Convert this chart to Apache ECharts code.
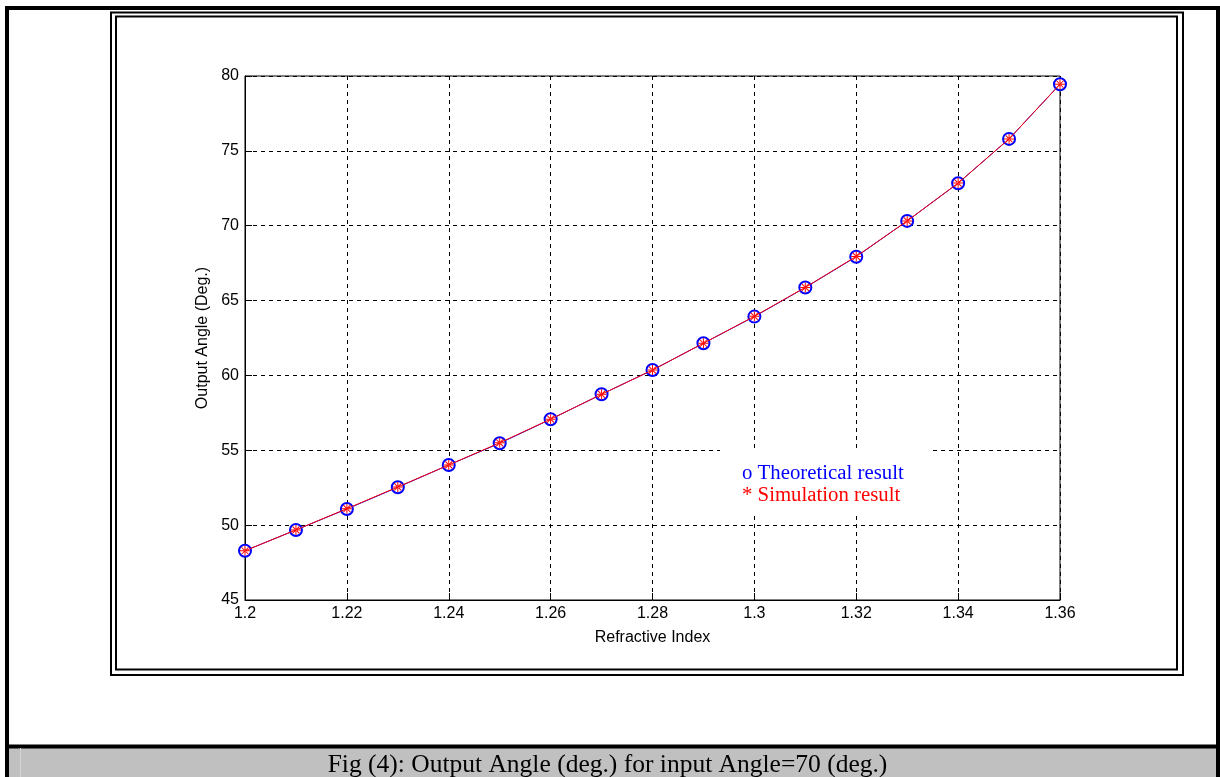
<!DOCTYPE html>
<html>
<head>
<meta charset="utf-8">
<title>Output Angle vs Refractive Index</title>
<script src="https://cdn.jsdelivr.net/npm/echarts@6/dist/echarts.min.js"></script>
<style>
  html, body { margin: 0; padding: 0; background: #fff; }
  #chartAngle { width: 1220px; height: 777px; }
</style>
</head>
<body>
<div id="chartAngle"></div>
<script>
// 折射率 (x)
var refIndex = [1.20, 1.21, 1.22, 1.23, 1.24, 1.25, 1.26, 1.27, 1.28, 1.29, 1.30, 1.31, 1.32, 1.33, 1.34, 1.35, 1.36];
// 理论结果 (deg.)
var theoretical = [48.29, 49.68, 51.08, 52.53, 54.02, 55.47, 57.07, 58.74, 60.36, 62.15, 63.93, 65.87, 67.93, 70.32, 72.84, 75.80, 79.45];
// 仿真结果 (deg.)
var simulation = [48.29, 49.68, 51.10, 52.55, 54.02, 55.50, 57.08, 58.74, 60.36, 62.15, 63.95, 65.88, 67.95, 70.32, 72.85, 75.80, 79.45];

var seriesNames = ['Theoretical result', 'Simulation result'];
var captionText = 'Fig (4): Output Angle (deg.) for input Angle=70 (deg.)';

function pairs(xs, ys) {
  var out = [];
  for (var i = 0; i < xs.length; i++) {
    out.push([xs[i], ys[i]]);
  }
  return out;
}

// asterisk marker (+ and x overlapped)
var starPath = 'path://M-0.5,-5L0.5,-5L0.5,5L-0.5,5Z' +
  'M-5,-0.5L5,-0.5L5,0.5L-5,0.5Z' +
  'M-3.85,-3.15L3.15,3.85L3.85,3.15L-3.15,-3.85Z' +
  'M-3.85,3.15L3.15,-3.85L3.85,-3.15L-3.15,3.85Z';

var chartAngle = echarts.init(document.getElementById('chartAngle'));
var axisFont = 'Liberation Sans, Arial, sans-serif';
var serifFont = 'Liberation Serif, Times New Roman, serif';
var option = {
  backgroundColor: '#fff',
  animation: false,
  grid: {
    left: 245,
    top: 76,
    width: 815,
    height: 524,
    show: true,
    borderColor: '#000',
    borderWidth: 1,
    backgroundColor: 'transparent'
  },
  // 图例
  legend: {
    orient: 'vertical',
    left: 720,
    top: 449,
    backgroundColor: '#fff',
    padding: [14, 27, 10, 17],
    itemGap: 1,
    itemWidth: 0,
    itemHeight: 21,
    icon: 'none',
    selectedMode: false,
    data: [
      { name: seriesNames[0], icon: 'none', textStyle: { color: '#0000ff' } },
      { name: seriesNames[1], icon: 'none', textStyle: { color: '#ff0000' } }
    ],
    formatter: function (name) {
      return (name === seriesNames[0] ? 'o ' : '* ') + name;
    },
    textStyle: {
      fontFamily: serifFont,
      fontSize: 20.8
    }
  },
  // x轴
  xAxis: {
    type: 'value',
    min: 1.2,
    max: 1.36,
    interval: 0.02,
    name: 'Refractive Index',
    nameLocation: 'middle',
    nameGap: 30,
    nameTextStyle: { color: '#000', fontFamily: axisFont, fontSize: 16 },
    axisLine: { show: true, lineStyle: { color: '#000', width: 1 } },
    axisTick: { show: true, inside: true, length: 7, lineStyle: { color: '#000' } },
    axisLabel: {
      color: '#000',
      fontFamily: axisFont,
      fontSize: 16,
      margin: 6,
      formatter: function (v) { return String(+v.toFixed(2)); }
    },
    splitLine: { show: true, lineStyle: { color: '#000', type: [4, 4], width: 1 } }
  },
  // y轴
  yAxis: {
    type: 'value',
    min: 45,
    max: 80,
    interval: 5,
    name: 'Output Angle (Deg.)',
    nameLocation: 'middle',
    nameGap: 30,
    nameTextStyle: { color: '#000', fontFamily: axisFont, fontSize: 16 },
    axisLine: { show: true, lineStyle: { color: '#000', width: 1 } },
    axisTick: { show: true, inside: true, length: 7, lineStyle: { color: '#000' } },
    axisLabel: { color: '#000', fontFamily: axisFont, fontSize: 16, margin: 6 },
    splitLine: { show: true, lineStyle: { color: '#000', type: [4, 4], width: 1 } }
  },
  series: [
    {
      name: seriesNames[0],
      type: 'line',
      data: pairs(refIndex, theoretical),
      symbol: 'emptyCircle',
      symbolSize: 12,
      color: '#0000ff',
      itemStyle: { color: '#0000ff', borderColor: '#0000ff', borderWidth: 1.3 },
      lineStyle: { color: '#0000ff', width: 1 },
      z: 2
    },
    {
      name: seriesNames[1],
      type: 'line',
      data: pairs(refIndex, simulation),
      symbol: starPath,
      symbolSize: 10,
      color: '#ff0000',
      itemStyle: { color: '#ff0000' },
      lineStyle: { color: '#ff0000', width: 1 },
      z: 3
    }
  ],
  // 边框和图注
  graphic: [
    { type: 'rect', z: -10, silent: true, shape: { x: 7, y: 8, width: 1211, height: 800 },
      style: { fill: 'none', stroke: '#000', lineWidth: 4 } },
    { type: 'rect', z: -10, silent: true, shape: { x: 111, y: 12.5, width: 1072, height: 662.5 },
      style: { fill: 'none', stroke: '#000', lineWidth: 2 } },
    { type: 'rect', z: -10, silent: true, shape: { x: 116, y: 16.5, width: 1061, height: 653 },
      style: { fill: 'none', stroke: '#000', lineWidth: 2 } },
    { type: 'rect', z: -10, silent: true, shape: { x: 9, y: 748, width: 1207, height: 29 },
      style: { fill: '#c0c0c0' } },
    { type: 'line', z: -9, silent: true, shape: { x1: 20.5, y1: 748, x2: 20.5, y2: 777 },
      style: { stroke: '#d4d4d4', lineWidth: 1 } },
    { type: 'line', z: -10, silent: true, shape: { x1: 7, y1: 746.5, x2: 1218, y2: 746.5 },
      style: { stroke: '#000', lineWidth: 4 } },
    { type: 'text', z: -5, silent: true, x: 607.5, y: 778,
      style: { text: captionText, fill: '#000', fontFamily: serifFont,
        fontSize: 25.5, align: 'center', verticalAlign: 'bottom' } }
  ]
};
chartAngle.setOption(option);

window.addEventListener('resize', function () {
  chartAngle.resize();
});
</script>
</body>
</html>
